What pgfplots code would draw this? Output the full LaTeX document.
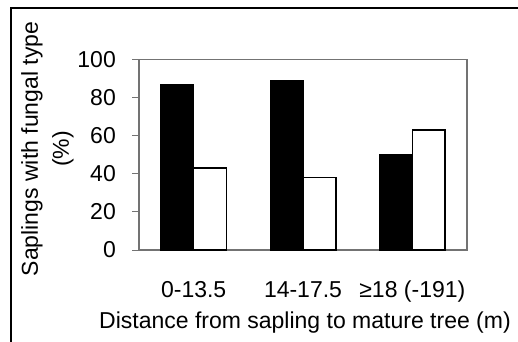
\documentclass[border=0pt]{standalone}
\usepackage{pgfplots}
\pgfplotsset{compat=1.18}
\usepackage{fontspec}
\setmainfont{Liberation Sans}
\begin{document}
\fontsize{23bp}{30bp}\selectfont
\begin{tikzpicture}[x=1bp,y=1bp]
\path[use as bounding box] (0,0) rectangle (518,341);
\draw[line width=2.5bp, black] (11,-10) -- (11,333) -- (530,333);
\begin{axis}[
  at={(139bp,91bp)}, anchor=south west,
  scale only axis, width=328bp, height=190.5bp,
  xmin=-0.5, xmax=2.5, ymin=0, ymax=100,
  axis line style={draw=gray!90!black, line width=1.3bp},
  tick align=outside, major tick length=7bp,
  xtick={0,1,2},
  xticklabels={0-13.5,14-17.5,≥18 (-191)},
  xtick style={draw=none},
  extra x ticks={-0.5,0.5,1.5,2.5},
  extra x tick labels={},
  extra x tick style={tick style={draw=gray!90!black, line width=1bp}},
  ytick={0,20,...,100},
  tick pos=left,
  ytick style={draw=gray!90!black, line width=1bp},
  yticklabel style={anchor=east, inner sep=0pt, xshift=-16bp},
  xticklabel style={anchor=base, inner sep=0pt, yshift=-40bp},
  /pgf/number format/assume math mode=true,
  ticklabel style={font=\fontsize{23bp}{26bp}\selectfont},
  xlabel={Distance from sapling to mature tree (m)},
  xlabel style={at={(axis description cs:0.506,0)}, anchor=base, inner sep=0pt, yshift=-78bp, font=\fontsize{23bp}{26bp}\selectfont},
  ylabel={Saplings with fungal type\\(\%)},
  ylabel style={at={(axis description cs:-0.279,0.53)}, anchor=center, align=center, inner sep=0pt, font=\fontsize{23bp}{31bp}\selectfont},
]
\addplot[ybar, bar width=0.3, bar shift=-0.15, fill=black, draw=black, line width=1.2bp] coordinates {(0,87) (1,89) (2,50)};
\addplot[ybar, bar width=0.3, bar shift=0.15, fill=white, draw=black, line width=1.5bp] coordinates {(0,43) (1,38) (2,63)};
\end{axis}
\end{tikzpicture}
\end{document}
